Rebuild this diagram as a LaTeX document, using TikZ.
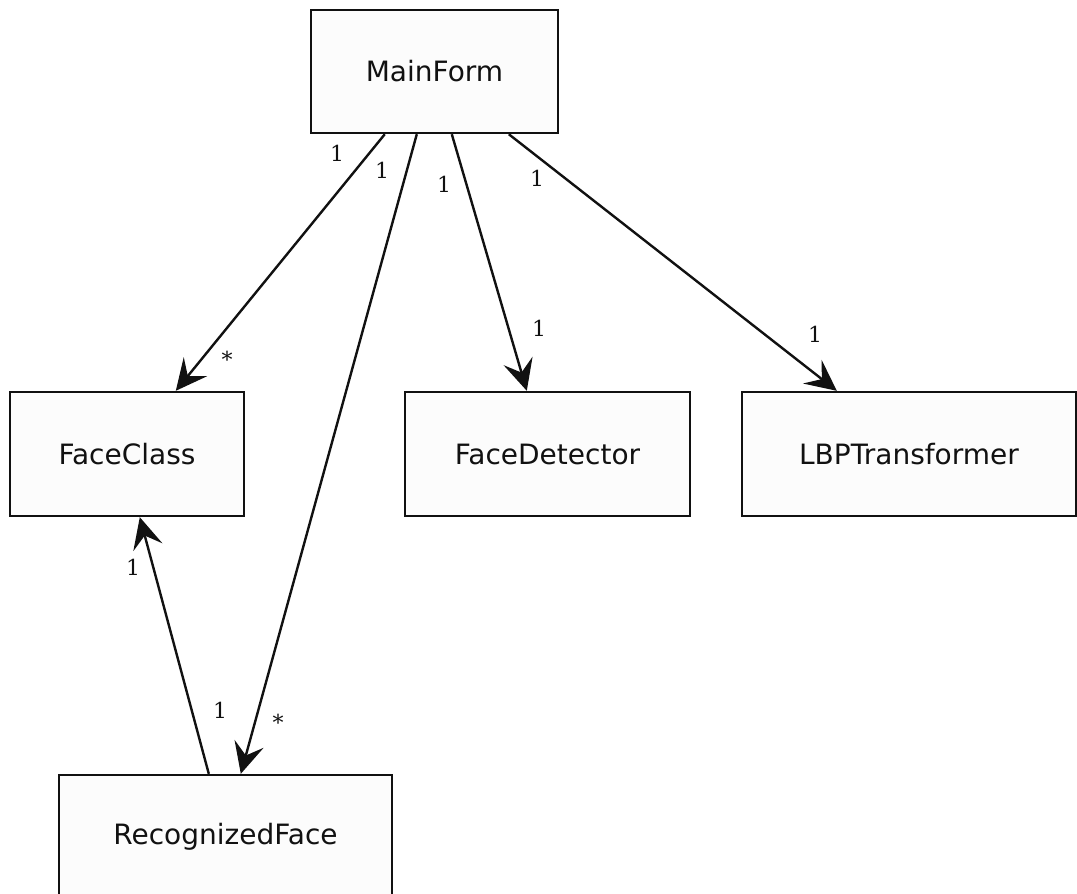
\documentclass[tikz,border=0pt]{standalone}
\usepackage{fontspec}
\setmainfont{DejaVu Sans}
\newfontfamily\multfont{DejaVu Serif}
\usetikzlibrary{arrows.meta}
\definecolor{boxfill}{HTML}{FCFCFC}
\definecolor{inkc}{HTML}{111111}
\begin{document}
\begin{tikzpicture}[x=1pt,y=-1pt,
  classbox/.style={draw=inkc,line width=2.4pt,fill=boxfill,inner sep=0pt,
    font=\fontsize{28}{33}\selectfont,text=inkc},
  assoc/.style={draw=inkc,line width=2.4pt,
    -{Stealth[length=31pt,width=30pt,inset=12pt]}},
  mult/.style={font=\multfont\fontsize{22}{26}\selectfont,text=inkc,inner sep=0pt}]
\useasboundingbox (0,0) rectangle (1077,894);
\node[classbox,minimum width=247pt,minimum height=123pt] (mf) at (434.5,71.5) {MainForm};
\node[classbox,minimum width=234pt,minimum height=124pt] (fc) at (127,454) {FaceClass};
\node[classbox,minimum width=285pt,minimum height=124pt] (fd) at (547.5,454) {FaceDetector};
\node[classbox,minimum width=334pt,minimum height=124pt] (lbp) at (909,454) {LBPTransformer};
\node[classbox,minimum width=333pt,minimum height=124pt] (rf) at (225.5,837) {RecognizedFace};

\draw[assoc] ([xshift=75pt]mf.south west) -- ([xshift=167pt]fc.north west);
\draw[assoc] ([xshift=107pt]mf.south west) -- ([xshift=183pt]rf.north west);
\draw[assoc] ([xshift=142pt]mf.south west) -- ([xshift=123pt]fd.north west);
\draw[assoc] ([xshift=199pt]mf.south west) -- ([xshift=96pt]lbp.north west);
\draw[assoc] ([xshift=151pt]rf.north west) -- ([xshift=131pt]fc.south west);

\node[mult] (m1a) at (337,153) {1};
\node[mult] (m1b) at (227,359) {*};
\node[mult] (m2a) at (382,170) {1};
\node[mult] (m2b) at (278,722) {*};
\node[mult] (m3a) at (444,184) {1};
\node[mult] (m3b) at (539,328) {1};
\node[mult] (m4a) at (537,178) {1};
\node[mult] (m4b) at (815,334) {1};
\node[mult] (m5a) at (133,567) {1};
\node[mult] (m5b) at (220,710) {1};
\end{tikzpicture}
\end{document}
